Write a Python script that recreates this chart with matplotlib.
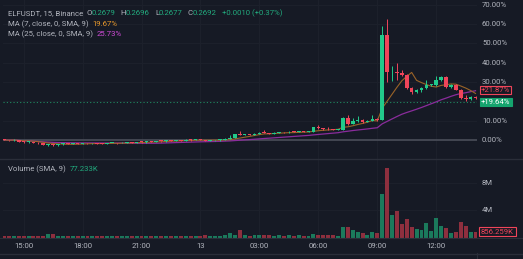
import matplotlib
matplotlib.use("Agg")
import matplotlib.pyplot as plt
import matplotlib.transforms as mtransforms
import pandas as pd

# ELF/USDT 15m, values in % from the start of the window
opens = [0.3, 0.0, -0.2, 0.1, -0.8, -1.1, -0.9, -1.4, -1.8, -2.6,
         -2.3, -2.7, -2.2, -2.0, -2.1, -1.8, -2.1, -1.7, -1.8, -1.6,
         -1.9, -2.0, -1.6, -1.5, -1.7, -1.3, -1.2, -1.4, -1.0, -1.1,
         -0.8, -0.9, -0.5, -0.6, -0.3, -0.4, -0.2, -0.3, 0.1, -0.1,
         0.2, 0.1, -0.4, -0.2, -0.1, 0.0, 0.6, 1.0, 3.0, 2.6,
         3.0, 2.8, 3.3, 3.8, 3.6, 3.3, 3.7, 4.0, 3.9, 4.2,
         4.1, 4.3, 4.2, 4.3, 6.5, 6.0, 5.7, 5.5, 5.3, 5.4,
         11.5, 8.3, 9.8, 10.2, 9.4, 10.0, 11.0, 10.4, 54.3, 35.0,
         35.3, 34.8, 33.6, 26.8, 24.8, 25.6, 26.8, 28.3, 28.5, 31.0,
         32.6, 27.2, 28.5, 26.0, 21.6, 21.2, 22.1]
closes = [0.0, -0.2, 0.1, -0.8, -1.1, -0.9, -1.4, -1.8, -2.6, -2.3,
          -2.7, -2.2, -2.0, -2.1, -1.8, -2.1, -1.7, -1.8, -1.6, -1.9,
          -2.0, -1.6, -1.5, -1.7, -1.3, -1.2, -1.4, -1.0, -1.1, -0.8,
          -0.9, -0.5, -0.6, -0.3, -0.4, -0.2, -0.3, 0.1, -0.1, 0.2,
          0.1, -0.4, -0.2, -0.1, 0.0, 0.6, 1.0, 3.0, 2.6, 3.0,
          2.8, 3.3, 3.8, 3.6, 3.3, 3.7, 4.0, 3.9, 4.2, 4.1,
          4.3, 4.2, 4.3, 6.5, 6.0, 5.7, 5.5, 5.3, 5.4, 11.5,
          8.3, 9.8, 10.2, 9.4, 10.0, 11.0, 10.4, 54.3, 35.0, 35.3,
          34.8, 33.6, 26.8, 24.8, 25.6, 26.8, 28.3, 28.5, 31.0, 32.6,
          27.2, 28.5, 26.0, 21.6, 21.2, 22.1, 21.87]
highs = [0.5, 0.2, 0.3, 0.2, -0.6, -0.7, -0.8, -1.2, -1.7, -2.0,
         -2.1, -2.0, -1.8, -1.8, -1.6, -1.6, -1.5, -1.5, -1.4, -1.4,
         -1.7, -1.4, -1.3, -1.3, -1.1, -1.0, -1.0, -0.8, -0.8, -0.6,
         -0.6, -0.3, -0.3, -0.1, -0.1, 0.0, 0.0, 0.3, 0.3, 0.4,
         0.4, 0.2, 0.0, 0.1, 0.3, 0.8, 2.6, 3.2, 4.6, 3.3,
         3.2, 3.5, 4.1, 5.0, 3.8, 3.9, 4.2, 4.3, 4.4, 4.5,
         4.5, 4.5, 4.6, 6.8, 7.5, 6.3, 6.9, 5.8, 5.7, 11.8,
         13.0, 11.5, 12.4, 10.6, 10.4, 13.0, 11.3, 59.0, 62.6, 38.4,
         39.8, 36.0, 34.2, 27.5, 26.4, 27.6, 31.0, 29.2, 33.3, 33.0,
         33.0, 29.0, 28.8, 26.3, 23.3, 22.6, 22.5]
lows = [-0.2, -0.4, -0.3, -1.0, -1.3, -1.3, -1.6, -2.0, -2.8, -2.9,
        -3.0, -2.9, -2.4, -2.3, -2.3, -2.3, -2.2, -2.0, -2.0, -2.1,
        -2.3, -2.1, -1.8, -1.9, -1.8, -1.5, -1.6, -1.5, -1.3, -1.3,
        -1.1, -1.0, -0.8, -0.8, -0.6, -0.6, -0.5, -0.4, -0.3, -0.2,
        -0.1, -0.6, -0.5, -0.4, -0.3, -0.2, 0.4, 0.8, 2.4, 2.4,
        2.5, 2.6, 3.1, 3.4, 3.1, 3.1, 3.5, 3.6, 3.7, 3.9,
        3.9, 4.0, 4.0, 4.1, 5.8, 5.4, 5.3, 5.1, 5.1, 5.2,
        8.0, 8.1, 9.5, 9.0, 9.2, 9.8, 10.0, 10.2, 30.2, 30.5,
        31.0, 33.0, 26.2, 24.0, 24.2, 25.0, 26.4, 27.8, 28.0, 30.4,
        26.8, 26.9, 25.6, 21.2, 20.2, 20.9, 21.4]
volumes = [0.15, 0.2, 0.18, 0.22, 0.2, 0.15, 0.2, 0.18, 0.22, 0.45,
           0.45, 0.2, 0.15, 0.18, 0.15, 0.2, 0.15, 0.18, 0.2, 0.15,
           0.2, 0.18, 0.15, 0.2, 0.22, 0.18, 0.15, 0.25, 0.2, 0.15,
           0.15, 0.2, 0.18, 0.15, 0.2, 0.15, 0.18, 0.2, 0.15, 0.2,
           0.18, 0.3, 0.2, 0.18, 0.25, 0.3, 0.65, 0.35, 1.1, 0.3,
           0.25, 0.3, 0.3, 0.35, 0.3, 0.25, 0.3, 0.25, 0.3, 0.25,
           0.3, 0.25, 0.2, 0.5, 0.3, 0.35, 0.3, 0.3, 0.2, 1.5,
           1.6, 1.1, 0.75, 0.6, 0.35, 0.85, 0.6, 6.35, 10.1, 3.3,
           3.8, 2.0, 2.7, 1.5, 1.25, 1.1, 2.15, 0.95, 2.8, 1.7,
           1.45, 0.7, 0.75, 2.3, 1.7, 0.85, 0.856]  # millions

time_ticks = [4, 16, 28, 40, 52, 64, 76, 88]
time_labels = ["15:00", "18:00", "21:00", "13", "03:00", "06:00", "09:00", "12:00"]
price_ticks = [0, 10, 20, 30, 40, 50, 60, 70]
price_labeled = [0, 10, 30, 40, 50, 60, 70]   # 20.00% sits under the last-price tag
vol_ticks = [4, 8]
vol_tick_labels = ["4M", "8M"]
last_pct = 19.64

BG = "#161a25"
GRID = "#1c202b"
TXT = "#b2b5be"
UP = "#22c98a"
DN = "#f0455a"
UP_V = "#1b7a5c"
DN_V = "#8e2f3e"

W, H = 523, 259
fig = plt.figure(figsize=(W / 100, H / 100), dpi=100, facecolor=BG)
plt.rcParams["font.family"] = ["Roboto", "DejaVu Sans"]
FS = 5.6

ax = fig.add_axes([3 / W, (H - 159) / H, 474 / W, 159 / H], facecolor=BG)
axv = fig.add_axes([3 / W, (H - 238) / H, 474 / W, 79 / H], facecolor=BG)

n = len(closes)
xs = list(range(n))
cols = [UP if c >= o else DN for o, c in zip(opens, closes)]
vcols = [UP_V if c >= o else DN_V for o, c in zip(opens, closes)]

for a in (ax, axv):
    a.set_xlim(-0.2, 96.3)
    for s in a.spines.values():
        s.set_visible(False)
    a.set_xticks([])
    a.set_yticks([])
    for t in time_ticks:
        a.axvline(t, color=GRID, lw=0.8, zorder=0)

ax.set_ylim(-9.83, 72.4)
for p in price_ticks[1:]:
    ax.axhline(p, color=GRID, lw=0.8, zorder=0)
ax.axhline(0, color="#4a4e59", lw=1.2, zorder=1)
ax.axhline(last_pct, color="#1f8a62", lw=0.8, ls=(0, (1, 2)), zorder=1)

# moving averages
s = pd.Series(closes)
ma7 = s.rolling(7, min_periods=1).mean()
ma25 = s.rolling(25, min_periods=1).mean()
ax.plot(xs, ma25, color="#8a2c9c", lw=0.9, zorder=2)
ax.plot(xs, ma7, color="#9a6328", lw=0.8, zorder=2)

# candles
ax.vlines(xs, lows, highs, colors=cols, lw=0.7, zorder=3)
bottoms = [min(o, c) for o, c in zip(opens, closes)]
heights = [max(abs(c - o), 0.4) for o, c in zip(opens, closes)]
ax.bar(xs, heights, bottom=bottoms, width=0.74, color=cols, lw=0, zorder=4)

# volume
axv.set_ylim(-0.07, 11.46)
for v in vol_ticks:
    axv.axhline(v, color=GRID, lw=0.8, zorder=0)
axv.bar(xs, volumes, width=0.8, color=vcols, lw=0, zorder=2)

# right scale
tr = mtransforms.blended_transform_factory(ax.transAxes, ax.transData)
for p in price_labeled:
    ax.text(1 + 5 / 474, p, f"{p:.2f}%", transform=tr, color=TXT, fontsize=FS,
            va="center", ha="left")
trv = mtransforms.blended_transform_factory(axv.transAxes, axv.transData)
for v, lab in zip(vol_ticks, vol_tick_labels):
    axv.text(1 + 5 / 474, v, lab, transform=trv, color=TXT, fontsize=FS,
             va="center", ha="left")

# price labels on the scale (the red one is pushed up to clear the green one)
ax.text(1 + 4 / 474, 26.0, "+21.87%", transform=tr, color=DN, fontsize=FS,
        va="center", ha="left",
        bbox=dict(boxstyle="square,pad=0.15", fc=BG, ec=DN, lw=0.8))
ax.text(1 + 4 / 474, last_pct, "+19.64%", transform=tr, color="white", fontsize=FS,
        va="center", ha="left",
        bbox=dict(boxstyle="square,pad=0.15", fc="#15a46e", ec="#15a46e", lw=0.8))
axv.text(1 + 4 / 474, volumes[-1], "856.259K", transform=trv, color=DN, fontsize=FS,
         va="center", ha="left",
         bbox=dict(boxstyle="square,pad=0.2", fc=BG, ec=DN, lw=0.8))

# time axis
for t, lab in zip(time_ticks, time_labels):
    fx = (3 + (t + 0.2) / 96.5 * 474) / W
    fig.text(fx, 1 - 246 / H, lab, color=TXT, fontsize=FS, ha="center", va="center")

# frame lines
fig.add_artist(plt.Line2D([477 / W, 477 / W], [0, 1 - 253 / H], color="#2a2e39", lw=0.8))
fig.add_artist(plt.Line2D([0, 1], [1 - 159 / H, 1 - 159 / H], color="#2a2e39", lw=1.0))
fig.add_artist(plt.Line2D([0, 1], [1 - 238 / H, 1 - 238 / H], color="#2a2e39", lw=0.8))
fig.add_artist(plt.Line2D([0, 1], [1 - 254 / H, 1 - 254 / H], color="#2a2e39", lw=1.0))

# legends
renderer = fig.canvas.get_renderer()


def seq_text(x_px, y_px, parts):
    x = x_px
    for txt, c, gap in parts:
        t = fig.text(x / W, 1 - y_px / H, txt, color=c, fontsize=FS, ha="left", va="center")
        x += t.get_window_extent(renderer=renderer).width + gap


G = "#22ab7e"
seq_text(8, 13, [("ELFUSDT, 15, Binance", TXT, 3), ("O", TXT, 0), ("0.2679", G, 5),
                 ("H", TXT, 0), ("0.2696", G, 5), ("L", TXT, 0), ("0.2677", G, 5),
                 ("C", TXT, 0), ("0.2692", G, 5), ("+0.0010 (+0.37%)", G, 0)])
seq_text(8, 24, [("MA (7, close, 0, SMA, 9)", TXT, 4), ("19.67%", "#e8992c", 0)])
seq_text(8, 34, [("MA (25, close, 0, SMA, 9)", TXT, 4), ("25.73%", "#d04cd8", 0)])
seq_text(8, 169, [("Volume (SMA, 9)", TXT, 4), ("77.233K", G, 0)])

fig.savefig("out.png", dpi=100, facecolor=BG)
